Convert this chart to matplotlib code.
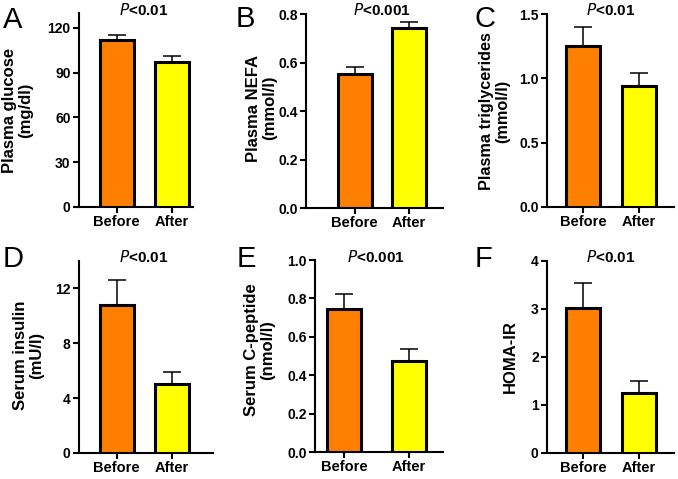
import matplotlib
matplotlib.use("Agg")
import matplotlib.pyplot as plt

plt.rcParams['font.family'] = ['Liberation Sans', 'DejaVu Sans']

# ---- data ----
groups = ["Before", "After"]
panel_letters = ["A", "B", "C", "D", "E", "F"]
ylabels = ["Plasma glucose\n(mg/dl)", "Plasma NEFA\n(mmol/l)", "Plasma triglycerides\n(mmol/l)",
           "Serum insulin\n(mU/l)", "Serum C-peptide\n(nmol/l)", "HOMA-IR"]
pvalues = ["<0.01", "<0.001", "<0.01", "<0.01", "<0.001", "<0.01"]
glucose = [112, 97]
glucose_err = [3, 4]
nefa = [0.553, 0.741]
nefa_err = [0.029, 0.025]
tg = [1.25, 0.94]
tg_err = [0.15, 0.105]
insulin = [10.8, 5.0]
insulin_err = [1.85, 0.9]
cpeptide = [0.745, 0.472]
cpeptide_err = [0.08, 0.063]
homa = [3.02, 1.25]
homa_err = [0.53, 0.25]
values = [glucose, nefa, tg, insulin, cpeptide, homa]
errors = [glucose_err, nefa_err, tg_err, insulin_err, cpeptide_err, homa_err]
yticks = [[0, 30, 60, 90, 120], [0.0, 0.2, 0.4, 0.6, 0.8], [0.0, 0.5, 1.0, 1.5],
          [0, 4, 8, 12], [0.0, 0.2, 0.4, 0.6, 0.8, 1.0], [0, 1, 2, 3, 4]]
ytick_fmt = ["{:.0f}", "{:.1f}", "{:.1f}", "{:.0f}", "{:.1f}", "{:.0f}"]
ytop = [130, 0.8, 1.5, 14, 1.0, 4]
colors = ["#FF7F00", "#FFFF00"]

# ---- layout (pixels) ----
W, H = 678, 479
# spine_left, x_end, bottom, top, center_before, center_after
layout = [
    (79, 193, 207, 13, 116.5, 171.5),
    (306, 443, 208, 14, 354.5, 408.5),
    (547, 674, 207, 14, 583, 638.7),
    (79, 213, 453, 261, 116.5, 171.5),
    (315, 443, 452, 260, 344, 408.5),
    (547, 674, 453, 261, 583, 638.7),
]
letter_pos = [(3, 28), (236, 27), (474, 27), (3, 267), (237, 267), (475, 267)]
label_pos = [(18, 110), (262, 108), (495, 111), (29, 355), (260, 350), (510, 357)]
label_size = [12, 12, 11.7, 12, 12, 12]
p_baseline = [15, 15, 15, 262, 262, 262]
bar_px = 34

fig = plt.figure(figsize=(W / 100, H / 100), dpi=100)
for i in range(6):
    L, R, B, T, c0, c1 = layout[i]
    ax = fig.add_axes([L / W, 1 - B / H, (R - L) / W, (B - T) / H])
    sp = c1 - c0
    x = [0, 1]
    ax.bar(x, values[i], width=bar_px / sp, color=colors, edgecolor="black",
           linewidth=2.2, zorder=3)
    ax.errorbar(x, values[i], yerr=[[0, 0], errors[i]], fmt="none", ecolor="black",
                elinewidth=1.1, capsize=6.5, capthick=1.1, zorder=2)
    ax.set_xlim((L - c0) / sp, (R - c0) / sp)
    ax.set_ylim(0, ytop[i])
    ax.set_yticks(yticks[i])
    ax.set_yticklabels([ytick_fmt[i].format(v) for v in yticks[i]], fontweight="bold", fontsize=10)
    ax.set_xticks(x)
    ax.set_xticklabels(groups, fontweight="bold", fontsize=10.5)
    for s in ["top", "right"]:
        ax.spines[s].set_visible(False)
    for s in ["left", "bottom"]:
        ax.spines[s].set_linewidth(1.5)
    ax.tick_params(axis="both", width=1.5, length=4, pad=2)
    lx, ly = label_pos[i]
    fig.text(lx / W, 1 - ly / H, ylabels[i], rotation=90, ha="center", va="center",
             multialignment="center", fontweight="bold", fontsize=label_size[i], linespacing=1.1)
    fig.text((c0 + c1) / 2 / W, 1 - p_baseline[i] / H, "$\\mathbf{\\it{P}}$" + pvalues[i],
             ha="center", va="baseline", fontsize=11, fontweight="bold")
    px_, py_ = letter_pos[i]
    fig.text(px_ / W, 1 - py_ / H, panel_letters[i], fontsize=21, ha="left", va="baseline")

fig.savefig("out.png", dpi=100)
